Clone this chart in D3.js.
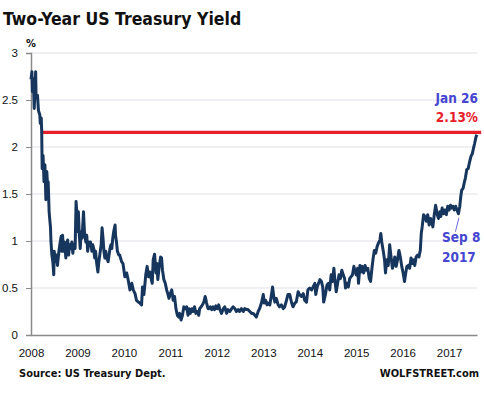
<!DOCTYPE html>
<html>
<head>
<meta charset="utf-8">
<script src="https://cdn.jsdelivr.net/npm/d3@7"></script>
<style>
  body { margin: 0; background: #fff; }
  svg { display: block; font-family: "DejaVu Sans Condensed", "DejaVu Sans", sans-serif; font-stretch: condensed; }
</style>
</head>
<body>
<svg id="chart" width="484" height="393"></svg>
<script>
// axis labels (x positions are in the chart's own year-label units)
const yearLabels = [2008, 2009, 2010, 2011, 2012, 2013, 2014, 2015, 2016, 2017];
const yTicks = [0, 0.5, 1, 1.5, 2, 2.5, 3];

// two-year yield, %
const yieldSeries = [
  [2008.00, 2.72], [2008.02, 2.80], [2008.03, 2.59], [2008.05, 2.73], [2008.07, 2.41], [2008.10, 2.80],
  [2008.11, 2.52], [2008.14, 2.55], [2008.16, 2.39], [2008.19, 2.34], [2008.20, 2.25], [2008.22, 2.31],
  [2008.23, 2.18], [2008.24, 1.77], [2008.26, 1.91], [2008.28, 1.63], [2008.30, 1.81], [2008.32, 1.44],
  [2008.34, 1.74], [2008.36, 1.56], [2008.37, 1.63], [2008.39, 1.31], [2008.42, 1.14], [2008.43, 0.99],
  [2008.45, 0.85], [2008.47, 0.78], [2008.49, 0.64], [2008.50, 0.89], [2008.53, 0.78], [2008.55, 0.85],
  [2008.57, 0.74], [2008.60, 0.89], [2008.62, 0.96], [2008.65, 1.05], [2008.66, 0.89], [2008.68, 1.06],
  [2008.70, 0.89], [2008.72, 0.99], [2008.75, 0.82], [2008.77, 0.96], [2008.79, 1.01], [2008.81, 0.85],
  [2008.83, 0.96], [2008.85, 0.92], [2008.88, 0.99], [2008.90, 0.87], [2008.92, 0.96], [2008.95, 0.92],
  [2008.97, 1.42], [2008.99, 1.28], [2009.00, 1.10], [2009.02, 1.31], [2009.04, 1.06], [2009.06, 0.92],
  [2009.08, 1.10], [2009.10, 1.03], [2009.13, 1.31], [2009.15, 1.10], [2009.18, 0.99], [2009.20, 1.06],
  [2009.22, 0.89], [2009.24, 0.99], [2009.26, 0.96], [2009.28, 0.99], [2009.31, 0.89], [2009.33, 0.96],
  [2009.35, 0.92], [2009.37, 0.82], [2009.39, 0.89], [2009.41, 0.78], [2009.44, 0.67], [2009.46, 0.78],
  [2009.48, 0.85], [2009.51, 0.96], [2009.53, 1.14], [2009.55, 1.03], [2009.57, 0.89], [2009.59, 0.82],
  [2009.61, 0.89], [2009.63, 0.82], [2009.66, 0.78], [2009.68, 0.85], [2009.70, 0.92], [2009.72, 0.96],
  [2009.74, 0.92], [2009.76, 1.03], [2009.78, 1.10], [2009.81, 1.17], [2009.82, 1.06], [2009.84, 0.99],
  [2009.86, 0.89], [2009.89, 0.85], [2009.91, 0.85], [2009.95, 0.78], [2009.98, 0.76], [2010.02, 0.62],
  [2010.06, 0.66], [2010.09, 0.59], [2010.13, 0.48], [2010.17, 0.55], [2010.20, 0.48], [2010.24, 0.44],
  [2010.27, 0.37], [2010.31, 0.35], [2010.34, 0.34], [2010.38, 0.32], [2010.40, 0.51], [2010.43, 0.43],
  [2010.45, 0.53], [2010.47, 0.64], [2010.50, 0.73], [2010.53, 0.62], [2010.56, 0.67], [2010.59, 0.59],
  [2010.61, 0.55], [2010.63, 0.80], [2010.66, 0.86], [2010.69, 0.66], [2010.71, 0.76], [2010.73, 0.59],
  [2010.76, 0.73], [2010.79, 0.83], [2010.81, 0.82], [2010.83, 0.69], [2010.86, 0.59], [2010.89, 0.55],
  [2010.92, 0.48], [2010.95, 0.43], [2010.97, 0.39], [2011.00, 0.44], [2011.03, 0.48], [2011.06, 0.37],
  [2011.09, 0.41], [2011.12, 0.28], [2011.15, 0.21], [2011.18, 0.19], [2011.20, 0.23], [2011.23, 0.16],
  [2011.26, 0.21], [2011.29, 0.30], [2011.32, 0.28], [2011.35, 0.30], [2011.38, 0.21], [2011.40, 0.28],
  [2011.43, 0.23], [2011.46, 0.28], [2011.49, 0.25], [2011.52, 0.30], [2011.55, 0.23], [2011.58, 0.25],
  [2011.61, 0.21], [2011.63, 0.28], [2011.66, 0.30], [2011.69, 0.32], [2011.72, 0.35], [2011.75, 0.41],
  [2011.78, 0.34], [2011.81, 0.28], [2011.83, 0.28], [2011.86, 0.30], [2011.89, 0.27], [2011.92, 0.30],
  [2011.95, 0.27], [2011.98, 0.31], [2012.01, 0.28], [2012.04, 0.32], [2012.06, 0.28], [2012.10, 0.23],
  [2012.14, 0.28], [2012.17, 0.30], [2012.21, 0.23], [2012.24, 0.27], [2012.28, 0.25], [2012.32, 0.28],
  [2012.35, 0.30], [2012.39, 0.28], [2012.42, 0.25], [2012.46, 0.27], [2012.49, 0.25], [2012.53, 0.28],
  [2012.57, 0.25], [2012.60, 0.28], [2012.64, 0.27], [2012.67, 0.27], [2012.71, 0.25], [2012.75, 0.23],
  [2012.78, 0.23], [2012.82, 0.21], [2012.85, 0.19], [2012.89, 0.25], [2012.92, 0.28], [2012.96, 0.34],
  [2013.00, 0.43], [2013.02, 0.34], [2013.05, 0.37], [2013.08, 0.32], [2013.10, 0.34], [2013.14, 0.32],
  [2013.17, 0.41], [2013.20, 0.51], [2013.23, 0.39], [2013.25, 0.35], [2013.28, 0.39], [2013.32, 0.32],
  [2013.35, 0.30], [2013.39, 0.32], [2013.43, 0.28], [2013.46, 0.30], [2013.50, 0.37], [2013.53, 0.43],
  [2013.57, 0.43], [2013.61, 0.34], [2013.64, 0.30], [2013.68, 0.34], [2013.71, 0.35], [2013.75, 0.46],
  [2013.78, 0.43], [2013.82, 0.41], [2013.86, 0.44], [2013.89, 0.37], [2013.93, 0.35], [2013.96, 0.48],
  [2014.00, 0.50], [2014.04, 0.48], [2014.07, 0.51], [2014.11, 0.55], [2014.13, 0.43], [2014.16, 0.51],
  [2014.19, 0.55], [2014.22, 0.59], [2014.25, 0.57], [2014.28, 0.51], [2014.30, 0.35], [2014.34, 0.44],
  [2014.37, 0.53], [2014.40, 0.55], [2014.43, 0.48], [2014.46, 0.64], [2014.49, 0.57], [2014.52, 0.71],
  [2014.54, 0.59], [2014.57, 0.46], [2014.60, 0.55], [2014.63, 0.64], [2014.66, 0.60], [2014.69, 0.69],
  [2014.72, 0.64], [2014.75, 0.60], [2014.77, 0.50], [2014.80, 0.55], [2014.83, 0.51], [2014.86, 0.60],
  [2014.89, 0.62], [2014.92, 0.64], [2014.95, 0.73], [2014.97, 0.69], [2015.00, 0.64], [2015.03, 0.71],
  [2015.05, 0.55], [2015.08, 0.74], [2015.10, 0.67], [2015.13, 0.73], [2015.16, 0.66], [2015.19, 0.74],
  [2015.22, 0.69], [2015.25, 0.71], [2015.28, 0.60], [2015.31, 0.57], [2015.33, 0.67], [2015.36, 0.80],
  [2015.39, 0.90], [2015.42, 0.87], [2015.45, 0.94], [2015.48, 0.98], [2015.51, 1.01], [2015.53, 1.08],
  [2015.55, 0.99], [2015.58, 0.90], [2015.61, 0.80], [2015.63, 0.66], [2015.66, 0.80], [2015.69, 0.74],
  [2015.72, 0.96], [2015.75, 0.83], [2015.78, 0.71], [2015.81, 0.76], [2015.83, 0.83], [2015.86, 0.73],
  [2015.89, 0.80], [2015.92, 0.90], [2015.95, 0.83], [2015.98, 0.73], [2016.01, 0.66], [2016.04, 0.57],
  [2016.06, 0.64], [2016.09, 0.73], [2016.12, 0.74], [2016.15, 0.71], [2016.18, 0.82], [2016.21, 0.76],
  [2016.24, 0.80], [2016.26, 0.74], [2016.29, 0.83], [2016.32, 0.85], [2016.35, 0.83], [2016.38, 0.90],
  [2016.40, 1.08], [2016.42, 1.15], [2016.45, 1.28], [2016.48, 1.26], [2016.51, 1.21], [2016.54, 1.28],
  [2016.57, 1.17], [2016.60, 1.24], [2016.62, 1.21], [2016.65, 1.15], [2016.68, 1.28], [2016.71, 1.38],
  [2016.74, 1.29], [2016.77, 1.24], [2016.80, 1.31], [2016.82, 1.26], [2016.85, 1.35], [2016.88, 1.29],
  [2016.91, 1.33], [2016.94, 1.28], [2016.97, 1.37], [2017.00, 1.33], [2017.03, 1.38], [2017.05, 1.35],
  [2017.08, 1.37], [2017.11, 1.33], [2017.14, 1.37], [2017.17, 1.33], [2017.20, 1.29], [2017.23, 1.37],
  [2017.25, 1.47], [2017.27, 1.54], [2017.30, 1.56], [2017.33, 1.63], [2017.35, 1.67], [2017.38, 1.76],
  [2017.41, 1.77], [2017.44, 1.84], [2017.47, 1.90], [2017.50, 1.93], [2017.53, 2.00], [2017.55, 2.04],
  [2017.58, 2.11], [2017.60, 2.13]
];

// horizontal marker at the latest level, and the Sep 8 2017 low
const markerLevel = 2.155;
const markerSpan = [2008.23, 2017.69];
const sepPoint = [2017.20, 1.29];

const svg = d3.select("#chart");
const x = d3.scaleLinear().domain([2008, 2017.6]).range([31, 477]);
const y = d3.scaleLinear().domain([0, 3]).range([335, 53]);

// gridlines
svg.append("g")
    .selectAll("line")
    .data(yTicks.filter(d => d > 0))
    .enter()
    .append("line")
    .attr("x1", x(2008))
    .attr("x2", x(2017.6))
    .attr("y1", d => y(d))
    .attr("y2", d => y(d))
    .attr("stroke", "#e0e0ea")
    .attr("stroke-width", 1.2);

// y axis
const yAxis = svg.append("g")
    .attr("transform", `translate(${x(2008)},0)`)
    .call(d3.axisLeft(y).tickValues(yTicks).tickSize(5).tickPadding(8).tickFormat(d3.format("")));
yAxis.select(".domain").attr("stroke", "#8a8a8a").attr("stroke-width", 1.5);
yAxis.selectAll(".tick line").attr("stroke", "#8a8a8a");
yAxis.selectAll("text").attr("font-size", 11.5).attr("fill", "#111").attr("font-family", null);

// x axis, labels only
const xAxis = svg.append("g")
    .attr("transform", `translate(0,${y(0)})`)
    .call(d3.axisBottom(x).tickValues(yearLabels).tickSize(0).tickPadding(14).tickFormat(d3.format("d")));
xAxis.select(".domain").attr("stroke", "#8a8a8a").attr("stroke-width", 1.5);
xAxis.selectAll("text").attr("font-size", 11.5).attr("fill", "#111").attr("font-family", null);

// red level line
svg.append("line")
    .attr("x1", x(markerSpan[0]))
    .attr("x2", x(markerSpan[1]))
    .attr("y1", y(markerLevel))
    .attr("y2", y(markerLevel))
    .attr("stroke", "#e8202a")
    .attr("stroke-width", 3.2);

// yield line
const line = d3.line().x(d => x(d[0])).y(d => y(d[1]));
svg.append("path")
    .datum(yieldSeries)
    .attr("d", line)
    .attr("fill", "none")
    .attr("stroke", "#17365d")
    .attr("stroke-width", 3)
    .attr("stroke-linejoin", "round");

// leader to the Sep 8 label
svg.append("line")
    .attr("x1", x(sepPoint[0]) + 0.5)
    .attr("y1", y(sepPoint[1]) + 4)
    .attr("x2", x(sepPoint[0]) - 3)
    .attr("y2", y(sepPoint[1]) + 18)
    .attr("stroke", "#4646cf")
    .attr("stroke-width", 0.8);

// texts
svg.append("text").attr("x", 3).attr("y", 25)
    .attr("font-size", 17.5).attr("font-weight", "bold").attr("fill", "#111")
    .text("Two-Year US Treasury Yield");
svg.append("text").attr("x", 26).attr("y", 47)
    .attr("font-size", 11).attr("font-weight", "bold").attr("fill", "#111")
    .text("%");

svg.append("text").attr("x", 478).attr("y", 103).attr("text-anchor", "end")
    .attr("font-size", 13.5).attr("font-weight", "bold").attr("fill", "#4646cf")
    .text("Jan 26");
svg.append("text").attr("x", 478).attr("y", 122).attr("text-anchor", "end")
    .attr("font-size", 13.5).attr("font-weight", "bold").attr("fill", "#e8202a")
    .text("2.13%");
svg.append("text").attr("x", 442).attr("y", 242)
    .attr("font-size", 13.5).attr("font-weight", "bold").attr("fill", "#4646cf")
    .text("Sep 8");
svg.append("text").attr("x", 442).attr("y", 262)
    .attr("font-size", 13.5).attr("font-weight", "bold").attr("fill", "#4646cf")
    .text("2017");

svg.append("text").attr("x", 19).attr("y", 377)
    .attr("font-size", 11).attr("font-weight", "bold").attr("fill", "#111")
    .text("Source: US Treasury Dept.");
svg.append("text").attr("x", 479).attr("y", 377).attr("text-anchor", "end")
    .attr("font-size", 11).attr("font-weight", "bold").attr("fill", "#111")
    .text("WOLFSTREET.com");
</script>
</body>
</html>
